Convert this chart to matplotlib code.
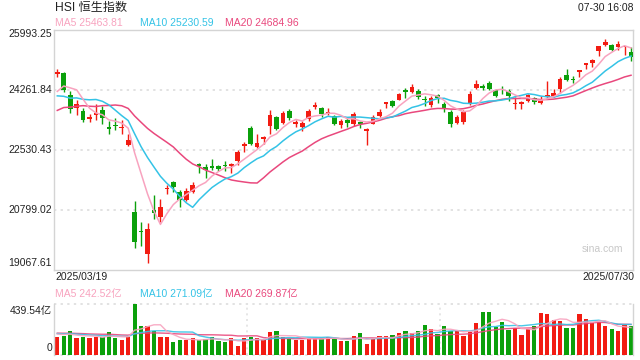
import matplotlib
matplotlib.use("Agg")
import matplotlib.pyplot as plt
import numpy as np

plt.rcParams['font.family'] = ['Liberation Sans', 'Noto Sans CJK SC', 'DejaVu Sans']

# ---------------- data ----------------
title = "HSI 恒生指数"
timestamp = "07-30 16:08"
date_labels = ["2025/03/19", "2025/07/30"]
y_ticks = [25993.25, 24261.84, 22530.43, 20799.02, 19067.61]
vol_max = 439.54
ma_labels = ["MA5 25463.81", "MA10 25230.59", "MA20 24684.96"]
vol_ma_labels = ["MA5 242.52亿", "MA10 271.09亿", "MA20 269.87亿"]

opens = [24720, 24752, 24108, 23742, 23646, 23420, 23530, 23685, 23194, 23220,
         23150, 22656, 20741, 20180, 19510, 20799, 20578, 21386, 21607, 21318,
         21068, 21309, 22090, 22030, 22069, 22060, 22070, 22049, 22203, 22636,
         23165, 22607, 22840, 23204, 23483, 23309, 23646, 23261, 23184, 23406,
         23760, 23742, 23570, 23502, 23233, 23396, 23261, 23338, 23059, 23281,
         23502, 23848, 23935, 23973, 24223, 24204, 24223, 23983, 23819, 24098,
         23858, 23627, 23290, 23338, 23838, 24319, 24348, 24454, 24243, 24271,
         24223, 23840, 23850, 23935, 24031, 23867, 24041, 24079, 24291, 24685,
         24560, 24772, 24983, 25031, 25378, 25551, 25541, 25493, 25483, 25349]
highs = [24849, 24760, 24223, 23964, 23742, 23569, 23838, 23781, 23367, 23454,
         23386, 22992, 21049, 20452, 20424, 21213, 21116, 21501, 21620, 21376,
         21415, 21607, 22155, 22107, 22271, 22078, 22203, 22155, 22531, 22752,
         23204, 22973, 22925, 23685, 23502, 23646, 23713, 23377, 23358, 23713,
         23915, 23761, 23742, 23531, 23425, 23454, 23617, 23358, 23165, 23531,
         23713, 23915, 23964, 24175, 24300, 24435, 24281, 24079, 24079, 24146,
         23896, 23665, 23531, 23665, 24223, 24550, 24416, 24512, 24271, 24368,
         24271, 24050, 23935, 24146, 24050, 24079, 24512, 24271, 24627, 24858,
         24656, 24829, 25041, 25137, 25530, 25714, 25589, 25666, 25512, 25493]
lows = [24627, 24204, 23579, 23531, 23319, 23338, 23377, 23261, 22992, 23098,
        22973, 22636, 19702, 19750, 19269, 20539, 20453, 21241, 21299, 20876,
        21049, 21280, 21867, 21722, 21934, 21915, 21915, 21857, 22088, 22454,
        22665, 22588, 22704, 22992, 23088, 23281, 23377, 23194, 23069, 23358,
        23694, 23473, 23531, 23233, 23165, 23194, 23213, 23165, 22665, 23261,
        23473, 23742, 23771, 23954, 24012, 24175, 24002, 23781, 23761, 23887,
        23627, 23184, 23261, 23261, 23819, 24291, 24243, 24262, 24050, 24127,
        23935, 23694, 23713, 23915, 23839, 23839, 24012, 24060, 24175, 24512,
        24445, 24637, 24849, 24916, 25233, 25522, 25378, 25397, 25262, 25089]
closes = [24740, 24243, 23694, 23858, 23377, 23450, 23560, 23435, 23117, 23200,
          23170, 22819, 19866, 20150, 20251, 20703, 20886, 21415, 21463, 21068,
          21338, 21511, 22060, 21934, 21992, 21985, 22045, 22107, 22473, 22665,
          22684, 22732, 22865, 23531, 23117, 23588, 23454, 23319, 23300, 23646,
          23790, 23569, 23600, 23281, 23358, 23290, 23569, 23281, 23136, 23473,
          23627, 23877, 23800, 24146, 24204, 24339, 24050, 23954, 24012, 24012,
          23733, 23261, 23483, 23627, 24146, 24435, 24319, 24291, 24069, 24243,
          24079, 23865, 23875, 24098, 23915, 24002, 24098, 24175, 24579, 24531,
          24531, 24800, 25012, 25108, 25522, 25637, 25406, 25570, 25503, 25204]
volumes = [159, 167, 208, 150, 159, 150, 159, 156, 202, 150,
           133, 159, 439.54, 254, 251, 211, 159, 159, 116, 130,
           130, 150, 130, 139, 156, 124, 116, 150, 78, 150,
           159, 150, 133, 202, 208, 156, 144, 130, 136, 147,
           150, 139, 156, 144, 121, 121, 165, 191, 95, 150,
           165, 165, 173, 191, 208, 191, 208, 260, 223, 182,
           251, 208, 208, 165, 199, 277, 373, 373, 243, 286,
           217, 234, 173, 225, 251, 364, 355, 303, 295, 234,
           234, 355, 312, 286, 286, 251, 225, 208, 260, 251]
# estimated closes / volumes of the 19 sessions before the first candle (for MA start)
prior_closes = [22576, 23477, 23341, 23034, 23787, 23718, 22941, 23006, 22941, 23594,
                24369, 24231, 23783, 23782, 23600, 23462, 23959, 24145, 24740]
prior_volumes = [185, 200, 190, 195, 205, 190, 180, 200, 210, 195,
                 190, 185, 200, 195, 190, 185, 195, 190, 185]

# ---------------- style ----------------
RED = '#f21c12'
GREEN = '#0ba00b'
MA_COLORS = ['#f8a3bf', '#34c3e6', '#e9487d']
TXT = '#222222'
BORDER = '#d4d4d4'
GRID = '#e2e2e2'

def moving_avg(prior, vals, n):
    full = np.array(prior + vals, dtype=float)
    out = []
    p = len(prior)
    for i in range(len(vals)):
        out.append(full[p + i - n + 1:p + i + 1].mean())
    return np.array(out)

n = len(closes)
x = np.arange(n)
o = np.array(opens, float); c = np.array(closes, float)
h = np.array(highs, float); l = np.array(lows, float)
up = c >= o
cols = [RED if u else GREEN for u in up]

W, H = 640, 360
fig = plt.figure(figsize=(6.4, 3.6), dpi=100)
ax = fig.add_axes([54 / W, 1 - 269.6 / H, 579 / W, 240 / H])
axv = fig.add_axes([54 / W, 1 - 355.3 / H, 579 / W, 51 / H])

ymin, ymax = y_ticks[-1], y_ticks[0]
ax.set_xlim(-0.51, n - 1 + 0.31)
ax.set_ylim(ymin, ymax)
for v in y_ticks[1:-1]:
    ax.axhline(v, color=GRID, lw=1.4, ls=(0, (1.2, 2.2)), zorder=0)

# candles
ax.vlines(x, l, h, colors=cols, lw=1.0, zorder=2)
body_bottom = np.minimum(o, c)
body_h = np.maximum(np.abs(c - o), 45)
ax.bar(x, body_h, width=0.72, bottom=body_bottom, color=cols, linewidth=0, zorder=3)

# price MAs
for nn, col in zip([20, 10, 5], MA_COLORS[::-1]):
    ax.plot(x, moving_avg(prior_closes, closes, nn), color=col, lw=1.1, zorder=4)

for sp in ax.spines.values():
    sp.set_color(BORDER); sp.set_linewidth(1.0)
ax.set_xticks([]); ax.set_yticks([])

# volume panel
axv.set_xlim(-0.51, n - 1 + 0.31)
axv.set_ylim(0, vol_max)
axv.bar(x, volumes, width=0.66, color=cols, linewidth=0, zorder=2)
for nn, col in zip([20, 10, 5], MA_COLORS[::-1]):
    axv.plot(x, moving_avg(prior_volumes, volumes, nn), color=col, lw=1.0, alpha=0.9, zorder=3)
axv.axhline(vol_max, color=GRID, lw=1.4, ls=(0, (1.2, 2.2)), zorder=0, clip_on=False)
axv.axhline(0, color=GRID, lw=1.4, ls=(0, (1.2, 2.2)), zorder=0, clip_on=False)
for fx in [1 / 3, 2 / 3]:
    axv.axvline(-0.51 + fx * (n - 1 + 0.82), color=GRID, lw=1.2, ls=(0, (1.2, 2.2)), zorder=0)
for s in ['top', 'bottom']:
    axv.spines[s].set_visible(False)
for s in ['left', 'right']:
    axv.spines[s].set_color(BORDER); axv.spines[s].set_linewidth(1.0)
axv.set_xticks([]); axv.set_yticks([])

FS = 7.5
def ftext(px, py, s, **kw):
    fig.text(px / W, 1 - py / H, s, **kw)

ftext(55, 8, title, fontsize=8.7, color=TXT, ha='left', va='center')
ftext(634, 8, timestamp, fontsize=FS, color=TXT, ha='right', va='center')
for lab, px, col in zip(ma_labels, [55, 140, 225], MA_COLORS):
    ftext(px, 23.5, lab, fontsize=FS, color=col, ha='left', va='center')
for lab, px, col in zip(vol_ma_labels, [55, 140, 225], MA_COLORS):
    ftext(px, 294.5, lab, fontsize=FS, color=col, ha='left', va='center')

# y tick labels
ypos = [34, 90, 150, 210, 263.5]
for v, py in zip(y_ticks, ypos):
    ftext(52, py, f"{v:.2f}", fontsize=FS, color=TXT, ha='right', va='center')
ftext(52, 311, f"{vol_max:.2f}亿", fontsize=FS, color=TXT, ha='right', va='center')
ftext(52, 348, "0", fontsize=FS, color=TXT, ha='right', va='center')

ftext(55, 277, date_labels[0], fontsize=FS, color=TXT, ha='left', va='center')
ftext(634, 277, date_labels[1], fontsize=FS, color=TXT, ha='right', va='center')
ftext(623, 249.5, "sina.com", fontsize=7.5, color='#c8c8c8', ha='right', va='center')

fig.savefig("out.png", dpi=100)
